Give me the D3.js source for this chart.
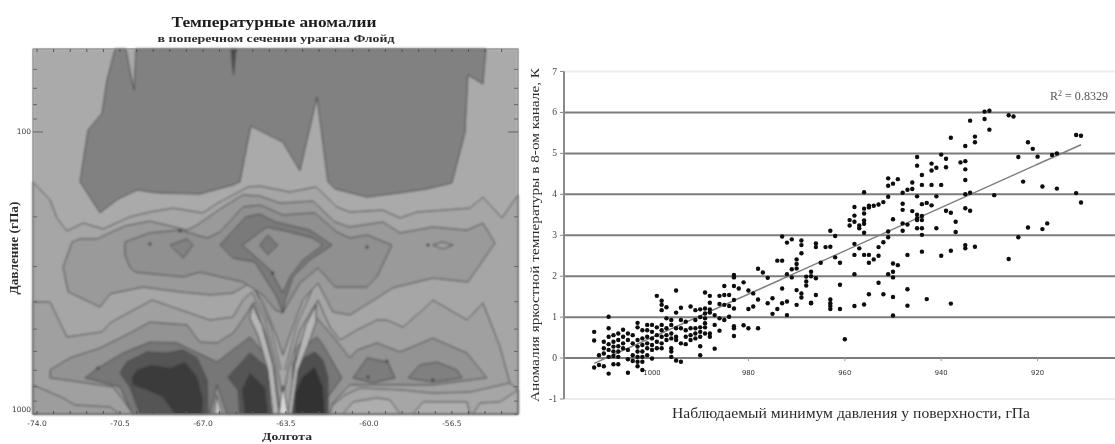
<!DOCTYPE html>
<html lang="ru"><head><meta charset="utf-8">
<script src="https://cdn.jsdelivr.net/npm/d3@7"></script>
<style>html,body{margin:0;padding:0;background:#fff}svg{display:block}text{font-family:"Liberation Serif",serif}</style>
</head><body><div id="c"></div>
<script>
// ---------- Left panel: contour outlines as [longitude, log10(pressure hPa)] ----------
const lonTicks=[-74,-70.5,-67,-63.5,-60,-56.5];
const lonTickLabels=["-74.0","-70.5","-67.0","-63.5","-60.0","-56.5"];
const pressureMinorTicks=[60,70,80,90,100,200,300,400,500,600,700,800,900,1000];
const pressureLabels=[100,1000];
const belowL1=[[-74.17,2.177],[-73.45,2.241],[-73.16,2.305],[-72.74,2.351],[-72.06,2.323],[-71.22,2.344],[-70.08,2.301],[-69.24,2.284],[-68.27,2.270],[-67.00,2.287],[-66.37,2.252],[-65.10,2.195],[-64.60,2.192],[-63.33,2.213],[-62.23,2.195],[-61.35,2.266],[-60.80,2.284],[-59.41,2.277],[-58.69,2.305],[-57.97,2.284],[-55.74,2.270],[-55.19,2.231],[-54.39,2.305],[-53.71,2.223],[-53.71,3],[-74.17,3]];
const upperCold=[[-70.71,1.706],[-71.05,1.816],[-71.26,1.933],[-71.85,1.993],[-72.19,2.177],[-71.34,2.287],[-70.58,2.238],[-69.78,2.206],[-68.94,2.216],[-67.13,2.220],[-65.73,2.188],[-65.44,2.177],[-64.98,1.979],[-63.63,2.036],[-62.91,2.138],[-62.19,1.876],[-61.73,2.177],[-61.43,2.202],[-60.08,2.231],[-58.69,2.216],[-57.55,2.202],[-56.50,2.181],[-55.95,2.004],[-55.82,1.798],[-55.19,1.830],[-55.06,1.706],[-69.83,1.706],[-69.91,1.851],[-70.25,1.706]];
const topSpike=[[-65.61,1.706],[-65.71,1.798],[-65.82,1.706]];
const ringD=[[-72.90,2.479],[-72.52,2.390],[-72.19,2.379],[-71.47,2.379],[-70.29,2.333],[-69.24,2.316],[-67.67,2.348],[-67.25,2.330],[-66.28,2.273],[-65.31,2.223],[-64.60,2.227],[-63.75,2.252],[-62.36,2.245],[-61.43,2.319],[-60.80,2.337],[-59.41,2.319],[-58.69,2.358],[-57.30,2.337],[-55.86,2.348],[-55.19,2.323],[-54.68,2.394],[-55.82,2.532],[-57.30,2.518],[-58.99,2.553],[-59.66,2.589],[-60.80,2.649],[-61.52,2.638],[-62.15,2.536],[-62.78,2.596],[-63.33,2.720],[-63.63,2.791],[-63.92,2.720],[-64.51,2.596],[-65.02,2.536],[-65.73,2.571],[-66.70,2.578],[-67.97,2.567],[-69.53,2.550],[-70.92,2.574],[-71.34,2.621],[-72.69,2.567]];
const ringE=[[-70.29,2.390],[-69.24,2.358],[-67.97,2.348],[-66.83,2.376],[-66.28,2.355],[-65.31,2.266],[-64.60,2.259],[-63.63,2.294],[-62.28,2.287],[-61.35,2.355],[-60.80,2.376],[-60.08,2.365],[-59.03,2.401],[-59.66,2.514],[-60.08,2.550],[-61.43,2.550],[-62.15,2.482],[-62.91,2.536],[-63.33,2.596],[-63.63,2.642],[-63.96,2.631],[-64.47,2.578],[-65.31,2.532],[-67.13,2.497],[-67.84,2.514],[-69.87,2.497],[-70.08,2.479],[-70.29,2.436]];
const ringF=[[-66.28,2.401],[-65.19,2.301],[-64.60,2.291],[-63.96,2.319],[-62.49,2.348],[-61.56,2.401],[-62.49,2.454],[-63.20,2.514],[-63.54,2.596],[-63.63,2.642],[-63.88,2.585],[-64.81,2.461],[-65.73,2.447]];
const ringG=[[-65.35,2.401],[-64.30,2.337],[-63.33,2.355],[-62.36,2.376],[-61.94,2.401],[-62.78,2.454],[-63.33,2.514],[-63.63,2.571],[-64.17,2.489],[-64.72,2.447]];
const coreDiamond=[[-64.60,2.401],[-64.26,2.365],[-63.84,2.401],[-64.26,2.436]];
const leftDiamond=[[-68.39,2.401],[-67.67,2.379],[-67.42,2.401],[-67.84,2.447]];
const rightLoop=[[-57.30,2.401],[-56.92,2.390],[-56.45,2.401],[-56.88,2.415]];
const belowLa=[[-74.17,2.603],[-73.45,2.603],[-72.74,2.727],[-71.26,2.709],[-70.92,2.677],[-69.15,2.596],[-66.70,2.667],[-65.73,2.656],[-65.31,2.596],[-64.93,2.567],[-64.38,2.667],[-63.84,2.844],[-63.63,2.950],[-63.41,2.844],[-62.91,2.702],[-62.15,2.596],[-61.64,2.692],[-61.22,2.738],[-60.50,2.702],[-59.66,2.667],[-59.24,2.667],[-58.56,2.692],[-57.72,2.631],[-57.30,2.596],[-55.86,2.667],[-55.19,2.606],[-54.47,2.762],[-54.05,2.890],[-53.71,2.915],[-53.71,3],[-74.17,3]];
const lowerRight=[[-54.05,2.890],[-55.74,2.922],[-57.30,2.926],[-58.56,2.915],[-60.38,2.908],[-61.01,2.933],[-61.52,2.968],[-61.85,3],[-53.71,3],[-53.71,2.915]];
const lowerLeft=[[-74.17,2.897],[-72.90,2.943],[-72.40,2.968],[-70.92,2.975],[-70.50,3],[-74.17,3]];
const ringH=[[-73.45,2.872],[-73.45,2.844],[-72.61,2.801],[-71.34,2.766],[-70.08,2.713],[-69.24,2.674],[-67.67,2.684],[-67.13,2.745],[-66.41,2.748],[-65.73,2.713],[-65.14,2.642],[-64.85,2.603],[-64.34,2.720],[-63.96,2.844],[-63.75,3],[-69.95,3],[-70.37,2.950],[-70.80,2.904],[-72.19,2.887]];
const ringHRight=[[-62.19,2.660],[-62.66,2.720],[-63.08,2.773],[-63.33,3],[-61.64,3],[-61.52,2.961],[-60.80,2.897],[-59.83,2.897],[-58.56,2.897],[-57.30,2.897],[-55.02,2.872],[-55.86,2.784],[-57.30,2.731],[-58.69,2.780],[-59.66,2.748],[-60.50,2.773],[-60.80,2.801],[-61.56,2.720]];
const ringI=[[-71.98,2.872],[-71.43,2.837],[-70.37,2.784],[-69.24,2.745],[-68.10,2.748],[-66.41,2.816],[-65.02,2.727],[-64.17,2.809],[-64.09,3],[-65.99,3],[-66.41,2.897],[-66.70,3],[-69.99,3],[-70.50,2.904]];
const ringIRight=[[-62.19,2.727],[-62.78,2.762],[-63.20,2.819],[-63.25,3],[-61.73,3],[-61.73,2.940],[-61.14,2.872],[-61.94,2.755]];
const ringJLeft=[[-70.50,2.855],[-70.21,2.816],[-69.36,2.780],[-68.52,2.784],[-67.84,2.773],[-67.25,2.801],[-66.83,2.879],[-66.79,3],[-69.66,3],[-70.08,2.904]];
const ringJCentre=[[-65.95,2.869],[-65.02,2.784],[-64.26,2.837],[-64.17,3],[-65.44,3],[-65.52,2.915]];
const ringJRight=[[-62.28,2.780],[-62.91,2.809],[-63.20,2.879],[-63.25,3],[-61.73,3],[-61.73,2.869],[-61.94,2.809]];
const ringKLeft=[[-70.00,2.872],[-69.78,2.844],[-69.15,2.826],[-68.39,2.837],[-67.76,2.816],[-67.25,2.869],[-67.00,2.950],[-67.04,3],[-68.18,3],[-68.69,2.940],[-69.36,2.915],[-69.95,2.897]];
const ringKCentre=[[-65.35,2.915],[-65.02,2.855],[-64.38,2.908],[-64.26,3],[-65.23,3]];
const ringKRight=[[-62.28,2.833],[-62.82,2.869],[-63.12,2.926],[-63.12,3],[-61.85,3],[-61.94,2.904]];
const blobA=[[-60.67,2.872],[-60.08,2.801],[-59.20,2.816],[-58.90,2.872],[-59.83,2.890]];
const blobB=[[-58.35,2.872],[-57.85,2.826],[-57.13,2.816],[-56.29,2.844],[-56.07,2.872],[-57.30,2.887]];
const humpA=[[-61.09,3],[-60.67,2.957],[-59.66,2.943],[-59.11,2.950],[-58.69,3]];
const humpB=[[-58.14,3],[-57.72,2.957],[-55.86,2.957],[-55.74,3]];
const humpC=[[-55.61,3],[-55.32,2.961],[-54.47,2.957],[-53.71,2.915],[-53.71,3]];
const notchInner=[[-66.53,3],[-66.41,2.933],[-66.20,3]];
const strandLeft=[[-64.93,2.613],[-64.51,2.684],[-64.05,2.826],[-63.79,3],[-64.05,3],[-64.26,2.844],[-64.68,2.720],[-65.02,2.660]];
const strandRight=[[-62.23,2.613],[-62.66,2.684],[-63.12,2.826],[-63.41,3],[-63.25,3],[-62.99,2.844],[-62.57,2.755],[-62.23,2.674]];
const centreBright=[[-63.79,3],[-63.63,2.897],[-63.41,3]];
const chimneyLineLeft=[[-64.81,2.560],[-64.17,2.684],[-63.71,2.844]];
const chimneyLineRight=[[-62.40,2.560],[-63.04,2.684],[-63.54,2.844]];
const contourMarks=[[-69.24,2.397],[-67.97,2.351],[-60.08,2.408],[-57.51,2.401],[-64.05,2.500],[-71.43,2.837],[-60.04,2.869],[-57.30,2.879],[-59.24,2.812]];

// ---------- Right panel: [observed minimum pressure hPa, brightness temperature anomaly K] ----------
const anomalyTicks=[-1,0,1,2,3,4,5,6,7];
const pressureTicks=[1000,980,960,940,920];
const trendPressure=[1012,911];
const trendAnomaly=[-0.13,5.21];
const stormsIntense=[[931,6.02],[930,6.04],[934,5.80],[931,5.84],[930,5.58],[926,5.93],[925,5.90],[938,5.38],[933,5.41],[933,5.27],[935,5.18],[912,5.45],[911,5.43],[922,5.27],[921,5.11],[920,4.92],[924,4.91],[917,4.96],[916,5.00],[940,4.97],[945,4.91],[939,4.87],[936,4.78],[935,4.81],[945,4.70],[942,4.75],[939,4.66],[941,4.65],[942,4.58],[935,4.61],[944,4.47],[949,4.37],[951,4.39],[950,4.26],[951,4.21],[935,4.35],[923,4.31],[919,4.19],[916,4.14],[946,4.29],[944,4.23],[942,4.23],[940,4.23],[946,4.13],[947,4.11],[948,4.04],[956,4.05],[951,3.94],[945,3.95],[941,3.95],[935,4.00],[934,4.04],[929,3.98],[912,4.03],[911,3.80],[952,3.81],[953,3.75],[954,3.72],[955,3.72],[955,3.68],[956,3.65],[958,3.69],[948,3.77],[948,3.62],[944,3.76],[943,3.79],[942,3.73],[935,3.66],[934,3.60],[939,3.60],[938,3.55],[946,3.59],[956,3.53],[958,3.48],[945,3.50],[944,3.47],[945,3.41],[945,3.37],[944,3.37],[950,3.39],[959,3.37],[958,3.33],[956,3.36],[959,3.24],[957,3.24],[956,3.28],[957,3.17],[948,3.29],[947,3.26],[937,3.33],[922,3.19],[918,3.29],[919,3.15],[945,3.17],[944,3.17],[941,3.17],[963,3.11],[948,3.11],[951,3.09],[956,3.06],[937,3.08],[962,2.98],[951,2.95],[944,3.01],[924,2.95]];
const stormsStrong=[[958,2.79],[957,2.68],[952,2.83],[953,2.71],[963,2.72],[964,2.71],[935,2.76],[935,2.68],[933,2.72],[938,2.62],[944,2.60],[947,2.52],[940,2.50],[958,2.52],[956,2.52],[955,2.52],[953,2.50],[954,2.41],[955,2.33],[962,2.46],[965,2.33],[961,2.33],[926,2.42],[950,2.31],[949,2.27],[950,2.11],[951,2.05],[958,2.05],[950,1.97],[966,1.95],[961,1.79],[953,1.84],[947,1.68],[955,1.56],[952,1.56],[950,1.49],[943,1.44],[966,1.54],[963,1.43],[963,1.34],[947,1.28],[938,1.33],[956,1.31],[958,1.27],[961,1.20],[963,1.20],[963,1.27],[950,1.04],[960,0.46],[973,2.97],[972,2.82],[971,2.90],[969,2.87],[969,2.76],[966,2.80],[966,2.71]];
const stormsModerate=[[969,2.56],[970,2.41],[970,2.30],[970,2.19],[974,2.38],[973,2.38],[978,2.18],[977,2.09],[976,1.96],[972,2.05],[971,1.97],[971,2.17],[967,2.11],[967,2.00],[968,1.99],[968,1.87],[968,1.77],[983,2.03],[983,1.97],[981,1.85],[985,1.76],[983,1.76],[982,1.70],[980,1.65],[979,1.58],[978,1.43],[976,1.34],[975,1.46],[973,1.70],[972,1.38],[973,1.34],[974,1.20],[975,1.08],[972,1.05],[970,1.66],[969,1.58],[969,1.48],[970,1.30],[967,1.35],[967,1.34],[989,1.60],[988,1.52],[986,1.52],[985,1.54],[984,1.54],[983,1.42],[988,1.35],[986,1.32],[985,1.30],[984,1.27],[983,1.21],[980,1.20],[979,1.26],[995,1.65],[999,1.52],[998,1.40],[998,1.30],[998,1.17],[997,1.24],[995,1.11],[994,1.23],[992,1.26],[991,1.17],[990,1.19],[989,1.21],[988,1.19],[988,1.11],[987,1.05],[986,0.97],[985,0.93],[984,1.01],[1009,1.01],[994,0.93],[993,0.89],[991,0.93],[990,1.00],[989,1.09],[989,0.97],[989,0.85],[987,0.81],[986,0.67],[983,0.78],[983,0.73],[981,0.80],[980,0.73],[978,0.73],[983,0.54],[987,0.23],[990,0.29],[990,0.07],[996,0.03],[995,-0.06],[994,-0.09],[996,0.24],[996,0.16]];
const stormsWeak=[[1012,0.64],[1012,0.43],[1012,-0.23],[1011,0.07],[1011,-0.17],[1010,0.40],[1010,0.24],[1010,0.11],[1010,-0.20],[1009,0.73],[1009,0.52],[1009,0.34],[1009,0.20],[1009,0.03],[1009,-0.38],[1008,0.56],[1008,0.40],[1008,0.28],[1008,0.16],[1008,0.05],[1008,-0.15],[1007,0.60],[1007,0.44],[1007,0.29],[1007,0.16],[1007,0.03],[1007,-0.15],[1006,0.69],[1006,0.52],[1006,0.36],[1006,0.24],[1005,0.60],[1005,0.44],[1005,0.20],[1005,-0.03],[1005,-0.36],[1004,0.56],[1004,0.36],[1004,0.07],[1004,-0.07],[1003,0.86],[1003,0.75],[1003,0.44],[1003,0.28],[1003,0.16],[1003,0.03],[1003,-0.09],[1003,-0.20],[1002,0.68],[1002,0.48],[1002,0.32],[1002,0.16],[1002,0.03],[1002,-0.09],[1002,-0.29],[1001,0.81],[1001,0.68],[1001,0.52],[1001,0.36],[1001,0.24],[1001,0.07],[1000,0.81],[1000,0.64],[1000,0.48],[1000,0.32],[1000,0.20],[1000,-0.01],[999,0.75],[999,0.56],[999,0.40],[999,0.24],[998,0.81],[998,0.68],[998,0.52],[998,0.36],[998,0.24],[997,0.97],[997,0.73],[997,0.56],[997,0.44],[996,0.93],[996,0.81],[996,0.60],[996,0.48],[995,0.73],[995,0.52],[995,0.44],[994,0.73],[994,0.36],[993,0.68],[993,0.52],[993,0.34],[992,0.73],[992,0.56],[992,0.44],[991,0.73],[991,0.60],[991,0.48],[990,0.75],[990,0.64],[990,0.52],[989,0.75],[989,0.60],[988,0.60],[988,0.52]];

// ---------- Scales ----------
const W=1115,H=444;
const svg=d3.select("#c").append("svg").attr("width",W).attr("height",H).attr("viewBox",[0,0,W,H]);
const defs=svg.append("defs");
defs.append("filter").attr("id","soft").attr("filterUnits","userSpaceOnUse").attr("x",0).attr("y",0).attr("width",W).attr("height",H)
  .append("feGaussianBlur").attr("stdDeviation",0.6);
defs.append("filter").attr("id","softer").attr("filterUnits","userSpaceOnUse").attr("x",0).attr("y",0).attr("width",W).attr("height",H)
  .append("feGaussianBlur").attr("stdDeviation",1);
svg.append("rect").attr("width",W).attr("height",H).attr("fill","#fff");
const root=svg.append("g").attr("filter","url(#soft)");

const frame={l:33,r:518,t:49,b:414};
const lon=d3.scaleLinear().domain([-74.17,-53.71]).range([frame.l,frame.r]);
const lev=d3.scaleLog().domain([50.8,1000]).range([frame.t,frame.b]);
const lineC=d3.line().x(d=>lon(d[0])).y(d=>lev(Math.pow(10,d[1]))).curve(d3.curveLinearClosed);
const lineO=d3.line().x(d=>lon(d[0])).y(d=>lev(Math.pow(10,d[1])));

// ---------- Left panel ----------
const field=svg.insert("g","g").attr("filter","url(#softer)");
field.append("rect").attr("x",frame.l).attr("y",frame.t).attr("width",frame.r-frame.l).attr("height",frame.b-frame.t).attr("fill","#aaaaaa");
const layers=[
 [belowL1,"#a6a6a6"],[upperCold,"#818181"],[topSpike,"#4a4a4a"],
 [ringD,"#9a9a9a"],[ringE,"#909090"],[ringF,"#7a7a7a"],[ringG,"#909090"],[coreDiamond,"#7a7a7a"],[leftDiamond,"#828282"],[rightLoop,"#a0a0a0"],
 [belowLa,"#a0a0a0"],[lowerRight,"#a6a6a6"],[lowerLeft,"#9d9d9d"],
 [ringH,"#939393"],[ringHRight,"#939393"],[ringI,"#777777"],[ringIRight,"#777777"],
 [ringJLeft,"#555555"],[ringJCentre,"#555555"],[ringJRight,"#505050"],
 [ringKLeft,"#3a3a3a"],[ringKCentre,"#3a3a3a"],[ringKRight,"#303030"],
 [blobA,"#7b7b7b"],[blobB,"#808080"],[humpA,"#aeaeae"],[humpB,"#aeaeae"],[humpC,"#ababab"],[notchInner,"#c0c0c0"],
 [strandLeft,"#b6b6b6"],[strandRight,"#b6b6b6"],[centreBright,"#d8d8d8"]
];
field.selectAll("path.c").data(layers).join("path").attr("class","c")
  .attr("d",d=>lineC(d[0])).attr("fill",d=>d[1]).attr("stroke","#484848").attr("stroke-width",1).attr("stroke-linejoin","round");
field.selectAll("path.l").data([chimneyLineLeft,chimneyLineRight]).join("path").attr("class","l")
  .attr("d",lineO).attr("fill","none").attr("stroke","#4f4f4f").attr("stroke-width",1);
field.selectAll("circle.m").data(contourMarks).join("circle").attr("class","m")
  .attr("cx",d=>lon(d[0])).attr("cy",d=>lev(Math.pow(10,d[1]))).attr("r",1.5).attr("fill","#333");

const left=root.append("g");
left.append("rect").attr("x",frame.l).attr("y",frame.t).attr("width",frame.r-frame.l).attr("height",frame.b-frame.t)
  .attr("fill","none").attr("stroke","#787878").attr("stroke-width",1);
const minorLon=d3.range(-74,-53.8,0.7);
left.selectAll("line.tb").data(minorLon).join("line").attr("class","tb").attr("x1",lon).attr("x2",lon).attr("y1",frame.t).attr("y2",frame.t+3).attr("stroke","#555");
left.selectAll("line.bb").data(minorLon).join("line").attr("class","bb").attr("x1",lon).attr("x2",lon).attr("y1",frame.b).attr("y2",frame.b-3).attr("stroke","#555");
left.selectAll("line.lt").data(pressureMinorTicks).join("line").attr("class","lt").attr("y1",lev).attr("y2",lev).attr("x1",frame.l).attr("x2",d=>frame.l+(d===100?10:4)).attr("stroke","#666");
left.selectAll("line.rt").data(pressureMinorTicks).join("line").attr("class","rt").attr("y1",lev).attr("y2",lev).attr("x1",frame.r).attr("x2",d=>frame.r-(d===100?10:4)).attr("stroke","#666");
left.selectAll("text.xt").data(lonTicks).join("text").attr("class","xt").attr("x",lon).attr("y",426).attr("text-anchor","middle")
  .style("font-family","'DejaVu Sans',sans-serif").attr("font-size",7.5).attr("fill","#3c3c3c").text((d,i)=>lonTickLabels[i]);
left.selectAll("text.yt").data(pressureLabels).join("text").attr("class","yt").attr("x",31).attr("y",d=>d===1000?412:lev(d)+2)
  .attr("text-anchor","end").style("font-family","'DejaVu Sans',sans-serif").attr("font-size",7.5).attr("fill","#3c3c3c").text(d=>d);
const stretched=(s,len)=>s.attr("textLength",len).attr("lengthAdjust","spacingAndGlyphs");
stretched(left.append("text").attr("x",274).attr("y",27).attr("text-anchor","middle").attr("font-weight","bold").attr("font-size",15).attr("fill","#1c1c1c").text("Температурные аномалии"),205);
stretched(left.append("text").attr("x",276).attr("y",42).attr("text-anchor","middle").attr("font-weight","bold").attr("font-size",10.5).attr("fill","#2a2a2a").text("в поперечном сечении урагана Флойд"),237);
stretched(left.append("text").attr("x",287).attr("y",440).attr("text-anchor","middle").attr("font-weight","bold").attr("font-size",11).attr("fill","#2a2a2a").text("Долгота"),50);
stretched(left.append("text").attr("transform","translate(18,248) rotate(-90)").attr("text-anchor","middle").attr("font-weight","bold").attr("font-size",11.5).attr("fill","#2a2a2a").text("Давление (гПа)"),93);

// ---------- Right panel ----------
const right=root.append("g");
const px=d3.scaleLinear().domain([1018.26,903.94]).range([564,1115]);
const py=d3.scaleLinear().domain([-1,7]).range([399,71.5]);
right.selectAll("line.g").data(anomalyTicks).join("line").attr("class","g")
  .attr("x1",564).attr("x2",1115).attr("y1",py).attr("y2",py)
  .attr("stroke",d=>(d===-1||d===7)?"#ececec":"#7c7c7c").attr("stroke-width",2);
right.append("line").attr("x1",564).attr("x2",564).attr("y1",py(7)).attr("y2",py(-1)).attr("stroke","#8a8a8a").attr("stroke-width",2);
right.selectAll("line.yk").data(anomalyTicks).join("line").attr("class","yk").attr("x1",560).attr("x2",564).attr("y1",py).attr("y2",py).attr("stroke","#8a8a8a");
right.selectAll("text.ya").data(anomalyTicks).join("text").attr("class","ya").attr("x",557).attr("y",d=>py(d)+3).attr("text-anchor","end")
  .attr("font-size",9.5).attr("fill","#444").text(d=>d);
right.selectAll("line.xk").data(pressureTicks).join("line").attr("class","xk").attr("x1",px).attr("x2",px).attr("y1",py(0)).attr("y2",py(0)+3).attr("stroke","#999");
right.selectAll("text.xa").data(pressureTicks).join("text").attr("class","xa").attr("x",px).attr("y",py(0)+16.5).attr("text-anchor","middle")
  .style("font-family","'DejaVu Sans',sans-serif").attr("font-size",6.8).attr("fill","#333").text(d=>d);
right.append("path").datum(trendPressure.map((p,i)=>[p,trendAnomaly[i]]))
  .attr("d",d3.line().x(d=>px(d[0])).y(d=>py(d[1]))).attr("stroke","#7e7e7e").attr("stroke-width",1.5).attr("fill","none");
right.selectAll("circle.d").data([...stormsIntense,...stormsStrong,...stormsModerate,...stormsWeak]).join("circle").attr("class","d")
  .attr("cx",d=>px(d[0])).attr("cy",d=>py(d[1])).attr("r",2.2).attr("fill","#080808");
const r2=right.append("text").attr("x",1050).attr("y",100).attr("font-size",12).attr("fill","#555").attr("textLength",58).attr("lengthAdjust","spacingAndGlyphs");
r2.append("tspan").text("R");
r2.append("tspan").attr("dy",-4).attr("font-size",8).text("2");
r2.append("tspan").attr("dy",4).text(" = 0.8329");
stretched(right.append("text").attr("transform","translate(539,235) rotate(-90)").attr("text-anchor","middle").attr("font-size",13).attr("fill","#2c2c2c").text("Аномалия яркостной температуры в 8-ом канале, К"),334);
stretched(right.append("text").attr("x",851).attr("y",418).attr("text-anchor","middle").attr("font-size",14).attr("fill","#2c2c2c").text("Наблюдаемый минимум давления у поверхности, гПа"),358);
</script></body></html>
